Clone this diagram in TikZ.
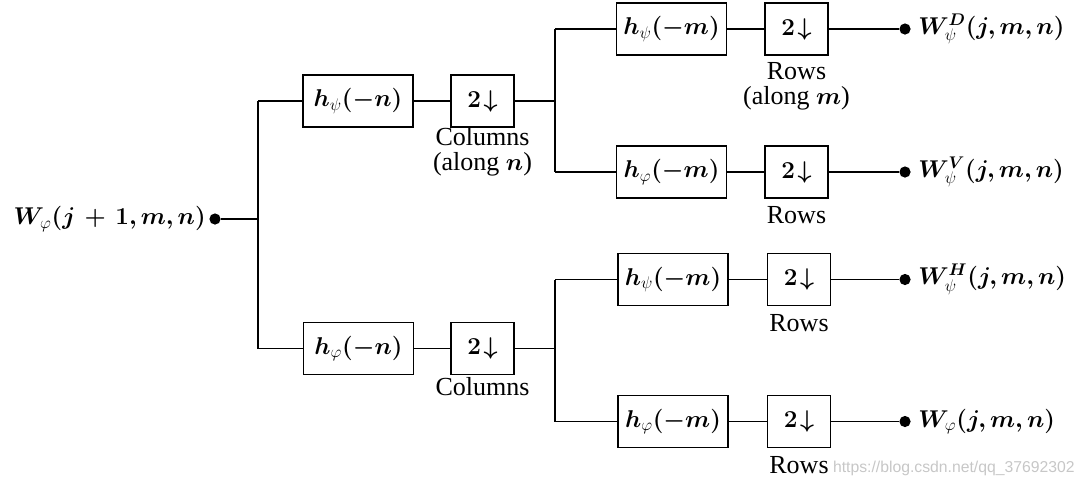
\documentclass[tikz,border=0pt]{standalone}
\usepackage{amsmath,bm}
\usepackage{fontspec}
\setmainfont{Liberation Serif}
\newfontfamily\wmfont{Liberation Sans}
\begin{document}
\begin{tikzpicture}[x=0.025cm,y=-0.025cm,
  every node/.style={font=\fontsize{17}{20}\selectfont},
  filt/.style={draw,line width=1.2pt,minimum width=2.75cm,minimum height=1.3cm,inner sep=0pt},
  down/.style={draw,line width=1.2pt,minimum width=1.575cm,minimum height=1.3cm,inner sep=0pt},
  dotn/.style={circle,fill,inner sep=0pt,minimum size=0.28cm},
  wire/.style={line width=1pt},
  lab/.style={align=center,inner sep=0pt,font=\fontsize{18.5}{18}\selectfont}]
\useasboundingbox (0,0) rectangle (1081,489);
% input
\node[dotn] (din) at (215,219) {};
\node[anchor=east,inner sep=0pt] (tin) at (206,219) {$\boldsymbol{W}_{\varphi}\boldsymbol{(j\,+\,1,m,n)}$};
\coordinate (j1t) at (258,101);
\coordinate (j1b) at (258,348.5);
% first stage
\node[filt] (a1) at (358,101) {$\boldsymbol{h}_{\psi}\boldsymbol{(-n)}$};
\node[down] (a2) at (482.5,101) {$\boldsymbol{2\!\downarrow}$};
\node[lab] (la2) at (482.5,152) {Columns\\(along $\boldsymbol{n}$)};
\node[filt] (b1) at (358.5,348.5) {$\boldsymbol{h}_{\varphi}\boldsymbol{(-n)}$};
\node[down] (b2) at (482.5,348.5) {$\boldsymbol{2\!\downarrow}$};
\node[lab] (lb2) at (482.5,387) {Columns};
\coordinate (j2) at (555,101);
\coordinate (j2t) at (555,29);
\coordinate (j2b) at (555,172);
\coordinate (j3) at (555,348.5);
\coordinate (j3t) at (555,279.5);
\coordinate (j3b) at (555,421.5);
% second stage
\node[filt] (c1) at (671.5,29) {$\boldsymbol{h}_{\psi}\boldsymbol{(-m)}$};
\node[down] (c2) at (796.5,29) {$\boldsymbol{2\!\downarrow}$};
\node[lab] (lc2) at (796.5,86.5) {Rows\\(along $\boldsymbol{m}$)};
\node[dotn] (dc) at (905,29) {};
\node[anchor=west,inner sep=0pt] (tc) at (918,29) {$\boldsymbol{W}^{\boldsymbol{D}}_{\psi}\boldsymbol{(j,m,n)}$};

\node[filt] (d1) at (671.5,172) {$\boldsymbol{h}_{\varphi}\boldsymbol{(-m)}$};
\node[down] (d2) at (796.5,172) {$\boldsymbol{2\!\downarrow}$};
\node[lab] (ld2) at (796.5,215) {Rows};
\node[dotn] (dd) at (905,172) {};
\node[anchor=west,inner sep=0pt] (td) at (918,172) {$\boldsymbol{W}^{\boldsymbol{V}}_{\psi}\boldsymbol{(j,m,n)}$};

\node[filt] (e1) at (673,279.5) {$\boldsymbol{h}_{\psi}\boldsymbol{(-m)}$};
\node[down] (e2) at (799,279.5) {$\boldsymbol{2\!\downarrow}$};
\node[lab] (le2) at (799,323) {Rows};
\node[dotn] (de) at (905,279.5) {};
\node[anchor=west,inner sep=0pt] (te) at (918,279.5) {$\boldsymbol{W}^{\boldsymbol{H}}_{\psi}\boldsymbol{(j,m,n)}$};

\node[filt] (f1) at (673,421.5) {$\boldsymbol{h}_{\varphi}\boldsymbol{(-m)}$};
\node[down] (f2) at (799,421.5) {$\boldsymbol{2\!\downarrow}$};
\node[lab] (lf2) at (799,465) {Rows};
\node[dotn] (df) at (905,421.5) {};
\node[anchor=west,inner sep=0pt] (tf) at (918,421.5) {$\boldsymbol{W}_{\varphi}\boldsymbol{(j,m,n)}$};
% wires
\draw[wire] (din) -- (din -| j1t);
\draw[wire] (j1t) -- (j1b);
\draw[wire] (j1t) -- (a1.west);
\draw[wire] (a1) -- (a2);
\draw[wire] (a2) -- (j2);
\draw[wire] (j1b) -- (b1.west);
\draw[wire] (b1) -- (b2);
\draw[wire] (b2) -- (j3);
\draw[wire] (j2t) -- (j2b);
\draw[wire] (j3t) -- (j3b);
\draw[wire] (j2t) -- (c1.west);
\draw[wire] (c1) -- (c2);
\draw[wire] (c2) -- (dc);
\draw[wire] (j2b) -- (d1.west);
\draw[wire] (d1) -- (d2);
\draw[wire] (d2) -- (dd);
\draw[wire] (j3t) -- (e1.west);
\draw[wire] (e1) -- (e2);
\draw[wire] (e2) -- (de);
\draw[wire] (j3b) -- (f1.west);
\draw[wire] (f1) -- (f2);
\draw[wire] (f2) -- (df);
% watermark
\node[anchor=east,inner sep=0pt,text=black!22,font=\wmfont\fontsize{11.2}{13}\selectfont] (wm) at (1075,468) {https://blog.csdn.net/qq\_37692302};
\end{tikzpicture}
\end{document}
